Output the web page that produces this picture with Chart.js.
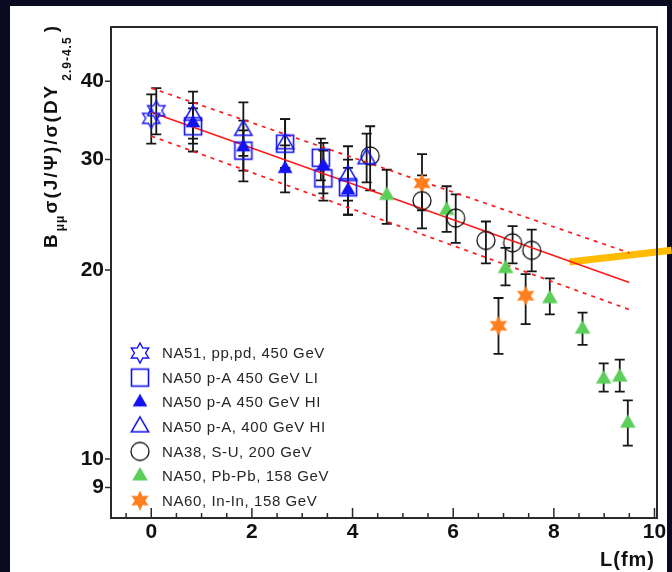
<!DOCTYPE html>
<html>
<head>
<meta charset="utf-8">
<script src="https://cdn.jsdelivr.net/npm/chart.js@4/dist/chart.umd.min.js"></script>
<style>
  html, body { margin: 0; padding: 0; background: #0a0b20; }
  canvas { display: block; }
</style>
</head>
<body>
<canvas id="c" width="672" height="572"></canvas>
<script>
// J/psi over Drell-Yan cross-section ratio versus nuclear path length L (fm)

// NA51, pp and pd, 450 GeV
const na51L  = [0.00, 0.10];
const na51R  = [34.9, 35.9];
const na51Lo = [31.8, 32.9];
const na51Hi = [38.1, 39.0];

// NA50 p-A 450 GeV, low intensity
const liL  = [0.83, 1.83, 2.66, 3.37, 3.42, 3.91];
const liR  = [33.9, 31.0, 31.8, 30.2, 28.0, 27.1];
const liLo = [30.9, 28.8, 29.1, 27.8, 25.8, 24.5];
const liHi = [36.9, 33.4, 34.8, 32.4, 31.0, 30.0];

// NA50 p-A 450 GeV, high intensity
const hiL  = [0.83, 1.83, 2.66, 3.42, 3.91];
const hiR  = [34.3, 31.4, 29.0, 29.3, 26.8];
const hiLo = [32.4, 27.7, 26.6, 26.5, 24.5];
const hiHi = [36.2, 34.6, 31.6, 31.9, 29.1];

// NA50 p-A 400 GeV, high intensity
const pa400L  = [0.83, 1.83, 2.66, 3.91, 4.28];
const pa400R  = [35.3, 33.4, 31.8, 28.3, 30.1];
const pa400Lo = [31.8, 30.4, 29.1, 25.8, 27.6];
const pa400Hi = [38.5, 37.0, 34.8, 31.5, 33.0];

// NA38, S-U, 200 GeV
const suL  = [4.35, 5.38, 6.05, 6.65, 7.18, 7.56];
const suR  = [30.4, 25.8, 24.2, 22.3, 22.1, 21.5];
const suLo = [26.8, 23.3, 22.1, 20.5, 20.5, 19.9];
const suHi = [33.9, 28.3, 26.4, 23.9, 23.5, 23.2];

// NA50, Pb-Pb, 158 GeV
const pbL  = [4.68, 5.87, 7.04, 7.92, 8.57, 8.99, 9.31, 9.47];
const pbR  = [26.3, 24.9, 20.1, 18.0, 16.1, 13.4, 13.5, 11.4];
const pbLo = [23.7, 23.0, 18.9, 17.0, 15.2, 12.8, 12.8, 10.5];
const pbHi = [28.9, 27.2, 21.7, 19.4, 17.1, 14.2, 14.4, 12.4];

// NA60, In-In, 158 GeV
const inL  = [5.38, 6.90, 7.44];
const inR  = [27.5, 16.3, 18.2];
const inLo = [24.9, 14.7, 16.4];
const inHi = [30.6, 18.05, 19.7];

// Normal nuclear absorption fit and its error band
const fitL     = [0.0, 9.5];
const fitMid   = [35.7, 19.1];
const fitUpper = [39.0, 21.3];
const fitLower = [32.7, 17.3];

// Highlight stroke at the high-L end
const markL = [8.31, 10.34];
const markR = [20.6, 21.5];

// Axis ticks
const xTicks = [0, 2, 4, 6, 8, 10];
const yTicks = [9, 10, 20, 30, 40];

const legendLabels = [
  'NA51, pp,pd, 450 GeV',
  'NA50 p-A 450 GeV LI',
  'NA50 p-A 450 GeV HI',
  'NA50 p-A, 400 GeV HI',
  'NA38, S-U, 200 GeV',
  'NA50, Pb-Pb, 158 GeV',
  'NA60, In-In, 158 GeV'
];

const BLUE = '#1212f2', GREEN = '#5ccf5a', ORANGE = '#ff7f1f', RED = '#ff1a1a', AMBER = '#ffbb00';
const FONT = "'Liberation Sans', Arial, sans-serif";

// ---------- marker images ----------
function marker(draw) {
  const c = document.createElement('canvas');
  c.width = 26; c.height = 26;
  const g = c.getContext('2d');
  g.translate(13, 13);
  draw(g);
  return c;
}
function starPath(g, n, R, r) {
  g.beginPath();
  for (let k = 0; k < 2 * n; k++) {
    const a = -Math.PI / 2 + k * Math.PI / n;
    const rad = k % 2 ? r : R;
    g.lineTo(rad * Math.cos(a), rad * Math.sin(a));
  }
  g.closePath();
}
function triPath(g, R) {
  g.beginPath();
  for (let k = 0; k < 3; k++) {
    const a = -Math.PI / 2 + k * 2 * Math.PI / 3;
    g.lineTo(R * Math.cos(a), R * Math.sin(a));
  }
  g.closePath();
}
const mkOpenStar = marker(g => { starPath(g, 6, 10, 5.6); g.strokeStyle = BLUE; g.lineWidth = 1.4; g.stroke(); });
const mkOpenSquare = marker(g => { g.strokeStyle = BLUE; g.lineWidth = 1.6; g.strokeRect(-8.5, -8.5, 17, 17); });
const mkFullTri = marker(g => { triPath(g, 8.5); g.fillStyle = BLUE; g.fill(); });
const mkOpenTri = marker(g => { triPath(g, 10); g.strokeStyle = BLUE; g.lineWidth = 1.5; g.stroke(); });
const mkCircle = marker(g => { g.beginPath(); g.arc(0, 0, 9, 0, Math.PI * 2); g.strokeStyle = '#111'; g.lineWidth = 1.3; g.stroke(); });
const mkGreenTri = marker(g => { triPath(g, 9); g.fillStyle = GREEN; g.fill(); });
const mkOrangeStar = marker(g => { starPath(g, 6, 10, 5.2); g.fillStyle = ORANGE; g.fill(); });

function pts(xs, ys) { return xs.map((x, i) => ({ x: x, y: ys[i] })); }
function series(label, xs, ys, lo, hi, img) {
  return { label: label, data: pts(xs, ys), lo: lo, hi: hi, pointStyle: img, pointRadius: 9, showLine: false, legendImg: img };
}
function line(xs, ys, color, width, dash, extra) {
  return Object.assign({ data: pts(xs, ys), showLine: true, pointRadius: 0, borderColor: color,
    borderWidth: width, borderDash: dash, fill: false, tension: 0 }, extra || {});
}

const datasets = [
  series(legendLabels[0], na51L, na51R, na51Lo, na51Hi, mkOpenStar),
  series(legendLabels[1], liL, liR, liLo, liHi, mkOpenSquare),
  series(legendLabels[2], hiL, hiR, hiLo, hiHi, mkFullTri),
  series(legendLabels[3], pa400L, pa400R, pa400Lo, pa400Hi, mkOpenTri),
  series(legendLabels[4], suL, suR, suLo, suHi, mkCircle),
  series(legendLabels[5], pbL, pbR, pbLo, pbHi, mkGreenTri),
  series(legendLabels[6], inL, inR, inLo, inHi, mkOrangeStar),
  line(fitL, fitMid, RED, 1.6, []),
  line(fitL, fitUpper, RED, 1.7, [4, 5]),
  line(fitL, fitLower, RED, 1.7, [4, 5]),
  line(markL, markR, AMBER, 7, [], { clip: false, borderCapStyle: 'butt' })
];

// ---------- plugins ----------
const panel = {
  id: 'panel',
  beforeDraw(chart) {
    const ctx = chart.ctx;
    ctx.save();
    ctx.fillStyle = '#0a0b20';
    ctx.fillRect(0, 0, chart.width, chart.height);
    ctx.fillStyle = '#ffffff';
    ctx.fillRect(10, 6, 657, 566);
    ctx.restore();
  }
};

const errorBars = {
  id: 'errorBars',
  beforeDatasetsDraw(chart) {
    const { ctx, chartArea: a, scales: { x, y } } = chart;
    ctx.save();
    ctx.beginPath(); ctx.rect(a.left, a.top, a.right - a.left, a.bottom - a.top); ctx.clip();
    ctx.strokeStyle = '#161616';
    ctx.lineWidth = 1.8;
    chart.data.datasets.forEach(ds => {
      if (!ds.lo) return;
      ds.data.forEach((p, i) => {
        const px = x.getPixelForValue(p.x);
        const yl = y.getPixelForValue(ds.lo[i]);
        const yh = y.getPixelForValue(ds.hi[i]);
        ctx.beginPath();
        ctx.moveTo(px, yl); ctx.lineTo(px, yh);
        ctx.moveTo(px - 5, yl); ctx.lineTo(px + 5, yl);
        ctx.moveTo(px - 5, yh); ctx.lineTo(px + 5, yh);
        ctx.stroke();
      });
    });
    ctx.restore();
  }
};

const frame = {
  id: 'frame',
  afterDraw(chart) {
    const { ctx, chartArea: a, scales: { x, y } } = chart;
    ctx.save();
    ctx.strokeStyle = '#2a2a2a';
    ctx.lineWidth = 2;
    ctx.strokeRect(a.left, a.top, a.right - a.left, a.bottom - a.top);
    ctx.lineWidth = 1.5;
    ctx.beginPath();
    // x ticks point into the plot: long on labelled values, short every 0.5
    for (let k = -1; k <= 20; k++) {
      const v = k * 0.5;
      const px = x.getPixelForValue(v);
      if (px < a.left + 1 || px > a.right - 1) continue;
      const len = (k % 4 === 0) ? 10 : 5;
      ctx.moveTo(px, a.bottom); ctx.lineTo(px, a.bottom - len);
    }
    // y ticks point outward
    yTicks.forEach(v => {
      const py = y.getPixelForValue(v);
      ctx.moveTo(a.left, py); ctx.lineTo(a.left - 6, py);
    });
    ctx.stroke();
    ctx.restore();
  }
};

const legendBox = {
  id: 'legendBox',
  afterDraw(chart) {
    const ctx = chart.ctx;
    ctx.save();
    ctx.font = '15px ' + FONT;
    if ('letterSpacing' in ctx) ctx.letterSpacing = '0.6px';
    ctx.fillStyle = '#262626';
    ctx.textBaseline = 'middle';
    ctx.textAlign = 'left';
    chart.data.datasets.forEach((ds, i) => {
      if (!ds.legendImg) return;
      const cy = 353 + i * 24.6;
      ctx.drawImage(ds.legendImg, 140 - 13, cy - 13);
      ctx.fillText(ds.label, 162, cy + 1);
    });
    ctx.restore();
  }
};

const titles = {
  id: 'titles',
  afterDraw(chart) {
    const ctx = chart.ctx;
    ctx.save();
    ctx.fillStyle = '#111';
    ctx.textBaseline = 'alphabetic';
    if ('letterSpacing' in ctx) ctx.letterSpacing = '1px';
    // x title
    ctx.font = 'bold 20px ' + FONT;
    ctx.textAlign = 'right';
    ctx.fillText('L(fm)', 655, 566);
    // y title, rotated, with subscripts
    ctx.textAlign = 'left';
    ctx.translate(57, 248);
    ctx.rotate(-Math.PI / 2);
    const parts = [
      { t: 'B', f: 'bold 19px ', dy: 0, gap: 0 },
      { t: 'μμ', f: 'bold 12px ', dy: 7, gap: 1 },
      { t: 'σ(J/Ψ)/σ(DY', f: 'bold 19px ', dy: 0, gap: 1 },
      { t: '2.9-4.5', f: 'bold 12px ', dy: 14, gap: 3 },
      { t: ')', f: 'bold 19px ', dy: 0, gap: 4 }
    ];
    let xp = 0;
    parts.forEach(p => {
      ctx.font = p.f + FONT;
      if ('letterSpacing' in ctx) ctx.letterSpacing = p.f.indexOf('19') >= 0 ? '2px' : '1px';
      xp += p.gap;
      ctx.fillText(p.t, xp, p.dy);
      xp += ctx.measureText(p.t).width;
    });
    ctx.restore();
  }
};

new Chart(document.getElementById('c'), {
  type: 'scatter',
  data: { datasets: datasets },
  options: {
    responsive: false,
    animation: false,
    events: [],
    devicePixelRatio: 1,
    layout: { padding: { top: 27, right: 15, left: 0, bottom: 0 } },
    plugins: { legend: { display: false }, tooltip: { enabled: false } },
    scales: {
      x: {
        type: 'linear', min: -0.8, max: 10.05,
        grid: { display: false }, border: { display: false },
        afterBuildTicks: s => { s.ticks = xTicks.map(v => ({ value: v })); },
        afterFit: s => { s.height = 54; },
        ticks: {
          padding: -6, color: '#111', maxRotation: 0, autoSkip: false,
          font: { family: FONT, size: 21, weight: 'bold' },
          callback: v => String(v)
        }
      },
      y: {
        type: 'logarithmic', min: 8.05, max: 48.8,
        grid: { display: false }, border: { display: false },
        afterBuildTicks: s => { s.ticks = yTicks.map(v => ({ value: v })); },
        afterFit: s => { s.width = 111; },
        ticks: {
          padding: -1, color: '#111',
          font: { family: FONT, size: 21, weight: 'bold' },
          callback: v => String(v)
        }
      }
    }
  },
  plugins: [panel, errorBars, frame, legendBox, titles]
});
</script>
</body>
</html>
